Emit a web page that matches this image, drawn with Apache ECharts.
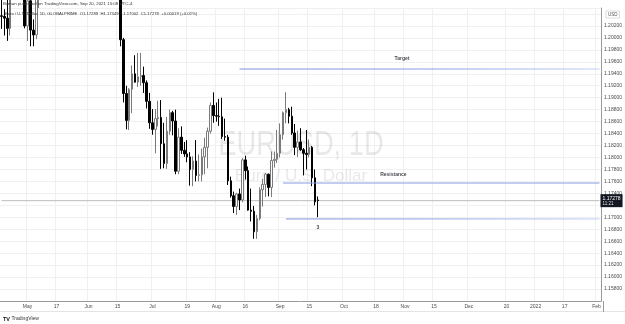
<!DOCTYPE html>
<html>
<head>
<meta charset="utf-8">
<script src="https://cdn.jsdelivr.net/npm/echarts@6/dist/echarts.min.js"></script>
<style>
    html, body { margin: 0; padding: 0; background: #fff; }
    #chart { width: 625px; height: 324px; }
</style>
</head>
<body>
<div id="chart"></div>
<script>
// EURUSD daily bars (GLOBALPRIME), first bar 2021-04-20, one per weekday
const firstDay = '2021-04-20'
const slotCount = 207 // weekday slots on the time axis, future ones stay empty

const opens = [
    // Apr
    1.2037, 1.2036, 1.2033, 1.2016, 1.2095, 1.2085, 1.2090, 1.2125, 1.2123,
    // May
    1.2020, 1.2062, 1.2013, 1.2005, 1.2065, 1.2164, 1.2133, 1.2149, 1.2074, 1.2080,
    1.2145, 1.2154, 1.2223, 1.2174, 1.2228, 1.2179, 1.2214, 1.2248, 1.2192, 1.2194, 1.2193,
    // Jun
    1.2226, 1.2213, 1.2211, 1.2125, 1.2165, 1.2192, 1.2172, 1.2178, 1.2173, 1.2107, 1.2120,
    1.2125, 1.1997, 1.1907, 1.1862, 1.1914, 1.1940, 1.1926, 1.1935, 1.1937, 1.1925, 1.1894,
    // Jul
    1.1858, 1.1847, 1.1865, 1.1867, 1.1823, 1.1790, 1.1844, 1.1875, 1.1861, 1.1777, 1.1834,
    1.1812, 1.1806, 1.1801, 1.1780, 1.1794, 1.1770, 1.1771, 1.1801, 1.1817, 1.1844, 1.1887,
    // Aug
    1.1870, 1.1869, 1.1868, 1.1835, 1.1834, 1.1761, 1.1736, 1.1718, 1.1739, 1.1729, 1.1796,
    1.1778, 1.1712, 1.1710, 1.1676, 1.1698, 1.1746, 1.1755, 1.1772, 1.1750, 1.1795, 1.1797,
    // Sep
    1.1807, 1.1838, 1.1875, 1.1880, 1.1869, 1.1841, 1.1817, 1.1826, 1.1813, 1.1807, 1.1805,
    1.1817, 1.1766, 1.17289
]
const highs = [
    1.2080, 1.2048, 1.2070, 1.2096, 1.2117, 1.2097, 1.2130, 1.2150, 1.2125,
    1.2075, 1.2077, 1.2031, 1.2072, 1.2173, 1.2181, 1.2183, 1.2150, 1.2089, 1.2155,
    1.2161, 1.2245, 1.2229, 1.2240, 1.2245, 1.2224, 1.2266, 1.2262, 1.2225, 1.2206, 1.2226,
    1.2254, 1.2230, 1.2218, 1.2186, 1.2197, 1.2200, 1.2195, 1.2218, 1.2183, 1.2131, 1.2144,
    1.2139, 1.2000, 1.1920, 1.1916, 1.1954, 1.1971, 1.1975, 1.1975, 1.1952, 1.1929, 1.1908,
    1.1881, 1.1881, 1.1895, 1.1896, 1.1858, 1.1868, 1.1880, 1.1878, 1.1880, 1.1849, 1.1852,
    1.1826, 1.1829, 1.1809, 1.1802, 1.1829, 1.1805, 1.1815, 1.1833, 1.1850, 1.1892, 1.1909,
    1.1892, 1.1898, 1.1900, 1.1865, 1.1838, 1.1768, 1.1743, 1.1741, 1.1748, 1.1799, 1.1803,
    1.1785, 1.1748, 1.1719, 1.1704, 1.1750, 1.1764, 1.1774, 1.1773, 1.1810, 1.1810, 1.1846,
    1.1857, 1.1877, 1.1909, 1.1883, 1.1885, 1.1856, 1.1845, 1.1849, 1.1816, 1.1846, 1.1830,
    1.1819, 1.1780, 1.17349
]
const lows = [
    1.2015, 1.2004, 1.1995, 1.2004, 1.2066, 1.2057, 1.2060, 1.2107, 1.2016,
    1.1995, 1.1986, 1.1986, 1.1998, 1.2050, 1.2132, 1.2125, 1.2072, 1.2052, 1.2075,
    1.2135, 1.2150, 1.2152, 1.2168, 1.2160, 1.2175, 1.2210, 1.2180, 1.2175, 1.2133, 1.2185,
    1.2208, 1.2194, 1.2104, 1.2102, 1.2145, 1.2157, 1.2167, 1.2144, 1.2092, 1.2093, 1.2095,
    1.1986, 1.1892, 1.1847, 1.1846, 1.1874, 1.1925, 1.1918, 1.1920, 1.1908, 1.1882, 1.1848,
    1.1838, 1.1807, 1.1852, 1.1781, 1.1782, 1.1781, 1.1838, 1.1837, 1.1772, 1.1772, 1.1806,
    1.1801, 1.1792, 1.1753, 1.1752, 1.1760, 1.1760, 1.1760, 1.1772, 1.1782, 1.1840, 1.1858,
    1.1860, 1.1853, 1.1831, 1.1828, 1.1754, 1.1733, 1.1707, 1.1704, 1.1712, 1.1725, 1.1763,
    1.1711, 1.1693, 1.1664, 1.1664, 1.1695, 1.1718, 1.1734, 1.1735, 1.1734, 1.1783, 1.1791,
    1.1800, 1.1830, 1.1857, 1.1857, 1.1838, 1.1804, 1.1801, 1.1811, 1.1770, 1.1780, 1.1800,
    1.1752, 1.1720, 1.17002
]
const closes = [
    1.2036, 1.2033, 1.2016, 1.2095, 1.2085, 1.2090, 1.2125, 1.2123, 1.2020,
    1.2062, 1.2013, 1.2005, 1.2065, 1.2164, 1.2133, 1.2149, 1.2074, 1.2080, 1.2145,
    1.2154, 1.2223, 1.2174, 1.2228, 1.2179, 1.2214, 1.2248, 1.2192, 1.2194, 1.2193, 1.2226,
    1.2213, 1.2211, 1.2125, 1.2165, 1.2192, 1.2172, 1.2178, 1.2173, 1.2107, 1.2120, 1.2125,
    1.1997, 1.1907, 1.1862, 1.1914, 1.1940, 1.1926, 1.1935, 1.1937, 1.1925, 1.1894, 1.1858,
    1.1847, 1.1865, 1.1867, 1.1823, 1.1790, 1.1844, 1.1875, 1.1861, 1.1777, 1.1834, 1.1812,
    1.1806, 1.1801, 1.1780, 1.1794, 1.1770, 1.1771, 1.1801, 1.1817, 1.1844, 1.1887, 1.1870,
    1.1869, 1.1868, 1.1835, 1.1834, 1.1761, 1.1736, 1.1718, 1.1739, 1.1729, 1.1796, 1.1778,
    1.1712, 1.1710, 1.1676, 1.1698, 1.1746, 1.1755, 1.1772, 1.1750, 1.1795, 1.1797, 1.1807,
    1.1838, 1.1875, 1.1880, 1.1869, 1.1841, 1.1817, 1.1826, 1.1813, 1.1807, 1.1805, 1.1817,
    1.1766, 1.17259, 1.17278
]

// time axis labels
const timeTicks = [
    ['2021-05-03', 'May'], ['2021-05-17', '17'], ['2021-06-01', 'Jun'], ['2021-06-15', '15'],
    ['2021-07-01', 'Jul'], ['2021-07-19', '19'], ['2021-08-02', 'Aug'], ['2021-08-16', '16'],
    ['2021-09-01', 'Sep'], ['2021-09-15', '15'], ['2021-10-01', 'Oct'], ['2021-10-18', '18'],
    ['2021-11-01', 'Nov'], ['2021-11-15', '15'], ['2021-12-01', 'Dec'], ['2021-12-20', '20'],
    ['2022-01-03', '2022'], ['2022-01-17', '17'], ['2022-02-01', 'Feb']
]

// price scale
const priceMin = 1.156
const priceMax = 1.205
const priceStep = 0.002
const lastPrice = 1.17278

// drawn levels: [start day, price]
const targetLine = ['2021-08-12', 1.1948]
const resistanceLine = ['2021-09-02', 1.17573]
const supportLine = ['2021-09-03', 1.16972]

// text notes: [day, price, text]
const notes = [
    ['2021-10-29', 1.19661, 'Target'],
    ['2021-10-26', 1.17707, 'Resistance'],
    ['2021-09-20', 1.16821, '3']
]

function weekdays(start, count) {
    const out = []
    const d = new Date(start + 'T00:00:00Z')
    while (out.length < count) {
        const wd = d.getUTCDay()
        if (wd !== 0 && wd !== 6) out.push(d.toISOString().slice(0, 10))
        d.setUTCDate(d.getUTCDate() + 1)
    }
    return out
}

const days = weekdays(firstDay, slotCount)
const lastDay = days[days.length - 1]
const tickMap = {}
timeTicks.forEach(t => { tickMap[t[0]] = t[1] })
const candles = opens.map((o, i) => [o, closes[i], lows[i], highs[i]])

const font = 'Liberation Sans, Arial, sans-serif'
const gridColor = '#f0f0f0'

function levelSeries(level, color, z) {
    return {
        type: 'line',
        data: [[level[0], level[1]], [lastDay, level[1]]],
        symbol: 'none',
        silent: true,
        z: z || 4,
        lineStyle: { width: 1, color: color }
    }
}

function fadeBlue(start) {
    return new echarts.graphic.LinearGradient(0, 0, 1, 0, [
        { offset: 0, color: '#7e91da' },
        { offset: start, color: '#8a9de2' },
        { offset: 1, color: '#c2d0f8' }
    ])
}

// last price line, with the price box at the axis end
const priceLine = levelSeries([firstDay, lastPrice], '#bdbdbd', 2)
priceLine.endLabel = {
    show: true,
    distance: 1,
    formatter: '{p|' + lastPrice.toFixed(5) + '}\n{t|11:21}',
    backgroundColor: '#131722',
    padding: [1, 2, 1, 2],
    rich: {
        p: { fontSize: 5, fontFamily: font, color: '#fff', lineHeight: 6 },
        t: { fontSize: 4.5, fontFamily: font, color: '#ddd', lineHeight: 5 }
    }
}

const myChart = echarts.init(document.getElementById('chart'))
myChart.setOption({
    animation: false,
    grid: { left: 0, right: 22, top: 8, bottom: 23 },
    xAxis: {
        type: 'category',
        data: days,
        boundaryGap: true,
        axisLine: { lineStyle: { color: '#9a9a9a', width: 1 } },
        axisTick: { show: false },
        axisLabel: {
            interval: (i, v) => tickMap[v] !== undefined,
            formatter: v => tickMap[v] || '',
            fontSize: 5,
            fontFamily: font,
            color: '#4a4a4a',
            margin: 3
        },
        splitLine: {
            show: true,
            interval: (i, v) => tickMap[v] !== undefined,
            lineStyle: { color: gridColor, width: 1 }
        }
    },
    yAxis: {
        type: 'value',
        position: 'right',
        min: priceMin,
        max: priceMax,
        interval: priceStep,
        axisLine: { show: true, lineStyle: { color: '#9a9a9a', width: 1 } },
        axisTick: { show: false },
        axisLabel: {
            fontSize: 5,
            fontFamily: font,
            color: '#4a4a4a',
            margin: 3,
            formatter: v => {
                const k = Math.round(v / priceStep)
                if (Math.abs(v - k * priceStep) > 1e-7) return ''
                if (v < priceMin + 0.001 || v > priceMax - 0.0015) return ''
                return v.toFixed(5)
            }
        },
        splitLine: { lineStyle: { color: gridColor, width: 1 } }
    },
    graphic: [
        {
            type: 'text', x: 301, y: 145, z: 1, scaleX: 0.78,
            style: {
                text: 'EURUSD, 1D', fontSize: 35, fontFamily: font, fill: 'rgba(0,0,0,0.09)',
                align: 'center', verticalAlign: 'middle', textAlign: 'center', textVerticalAlign: 'middle'
            }
        },
        {
            type: 'text', x: 301, y: 176, z: 1,
            style: {
                text: 'Euro / U.S. Dollar', fontSize: 17, fontFamily: font, fill: 'rgba(0,0,0,0.09)',
                align: 'center', verticalAlign: 'middle', textAlign: 'center', textVerticalAlign: 'middle'
            }
        },
        {
            type: 'text', x: 3, y: 2, z: 10,
            style: { text: 'Bitman published on TradingView.com, Sep 20, 2021 15:08 UTC-4', fontSize: 4.4, fontFamily: font, fill: '#333' }
        },
        {
            type: 'text', x: 5, y: 12, z: 10,
            style: {
                text: 'Euro / U.S. Dollar, 1D, GLOBALPRIME  O1.17289  H1.17349  L1.17002  C1.17278  +0.00019 (+0.02%)',
                fontSize: 4.2, fontFamily: font, fill: '#333'
            }
        },
        {
            type: 'text', x: 606, y: 11, z: 10,
            style: { text: 'USD', fontSize: 4.5, fontFamily: font, fill: '#555', borderColor: '#bbb', borderWidth: 0.5, padding: [1, 2] }
        },
        {
            type: 'line', z: 10, silent: true,
            shape: { x1: 0, y1: 311.5, x2: 625, y2: 311.5 },
            style: { stroke: '#e4e4e4', lineWidth: 1 }
        },
        {
            type: 'line', z: 10, silent: true,
            shape: { x1: 603.5, y1: 301, x2: 603.5, y2: 312 },
            style: { stroke: '#9a9a9a', lineWidth: 1 }
        },
        {
            type: 'text', x: 3, y: 316, z: 10,
            style: {
                text: '{b|TV} TradingView', fontSize: 5, fontFamily: font, fill: '#333',
                rich: { b: { fontSize: 5.5, fontWeight: 'bold', fill: '#111' } }
            }
        }
    ],
    series: [
        priceLine,
        {
            type: 'candlestick',
            data: candles,
            barWidth: 2,
            z: 3,
            itemStyle: {
                color: '#ffffff',
                color0: '#000000',
                borderColor: '#7a7a7a',
                borderColor0: '#000000',
                borderWidth: 1
            }
        },
        levelSeries(targetLine, fadeBlue(0.55)),
        levelSeries(resistanceLine, '#889ce2'),
        levelSeries(supportLine, fadeBlue(0.4)),
        {
            type: 'scatter',
            data: notes,
            symbolSize: 0,
            silent: true,
            z: 5,
            label: {
                show: true,
                position: 'inside',
                formatter: p => p.data[2],
                fontSize: 5,
                fontWeight: 'bold',
                fontFamily: font,
                color: '#131722'
            }
        }
    ]
})
window.addEventListener('resize', () => { myChart && myChart.resize() })
</script>
</body>
</html>
